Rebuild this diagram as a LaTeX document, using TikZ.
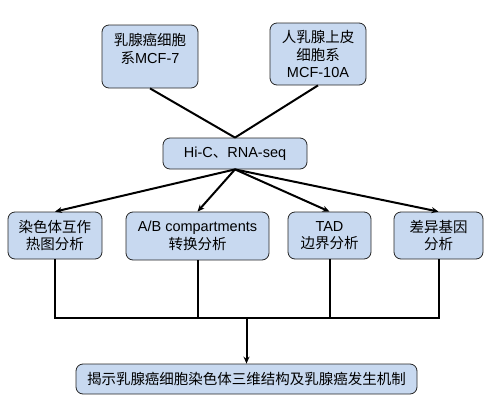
\documentclass[tikz,border=0pt]{standalone}
\usepackage{fontspec}
\setmainfont{Liberation Sans}
\newfontfamily\cjk{Noto Sans CJK SC}
\newcommand\zh[1]{{\cjk #1}}
\usetikzlibrary{arrows.meta}
\definecolor{boxblue}{RGB}{200,217,240}
\begin{document}
\begin{tikzpicture}[x=1pt,y=-1pt,
  box/.style={draw=black!85, line width=0.8pt, fill=boxblue, rounded corners=7pt,
    inner sep=0pt, align=center, font=\fontsize{14.5}{17.5}\selectfont},
  txt/.style={inner sep=0pt, align=center, font=\fontsize{14.5}{17.5}\selectfont},
  conn/.style={line width=2pt, black},
  arr/.style={conn, -{Stealth[length=7pt,width=6pt]}}]
\useasboundingbox (0,0) rectangle (488,400);
% top boxes
\node[box, minimum width=96, minimum height=63] (mcf7) at (150,56.5) {};
\node[txt] (mcf7t) at (150,49) {\zh{乳腺癌细胞}\\\zh{系}MCF-7};
\node[box, minimum width=96, minimum height=62] (mcf10) at (318,54) {\zh{人乳腺上皮}\\\zh{细胞系}\\MCF-10A};
% Hi-C
\node[box, minimum width=144, minimum height=31] (hic) at (235,153.5) {Hi-C\zh{、}RNA-seq};
% analysis row
\node[box, minimum width=94, minimum height=47] (a1) at (55,235.5) {\zh{染色体互作}\\\zh{热图分析}};
\node[box, minimum width=143, minimum height=48] (a2) at (197.5,236) {A/B compartments\\\zh{转换分析}};
\node[box, minimum width=83, minimum height=47] (a3) at (329.5,235.5) {TAD\\\zh{边界分析}};
\node[box, minimum width=89, minimum height=47] (a4) at (438.5,235.5) {\zh{差异基因}\\\zh{分析}};
% bottom
\node[box, minimum width=341, minimum height=30] (res) at (246.5,379) {\zh{揭示乳腺癌细胞染色体三维结构及乳腺癌发生机制}};
% connectors
\draw[conn] (mcf7.south) -- (hic.north);
\draw[conn] (mcf10.south) -- (hic.north);
\foreach \n in {a1,a2,a3,a4} \draw[arr] (hic.south) -- (\n.north);
\coordinate (hl) at (a1.south |- 0,318);
\coordinate (hr) at (a4.south |- 0,318);
\coordinate (hm) at (res.north |- 0,318);
\draw[conn] (a1.south) -- (hl) -- (hr) -- (a4.south);
\draw[conn] (a2.south) -- (a2.south |- hl);
\draw[conn] (a3.south) -- (a3.south |- hl);
\draw[arr] (hm) -- (res.north);
\end{tikzpicture}
\end{document}
